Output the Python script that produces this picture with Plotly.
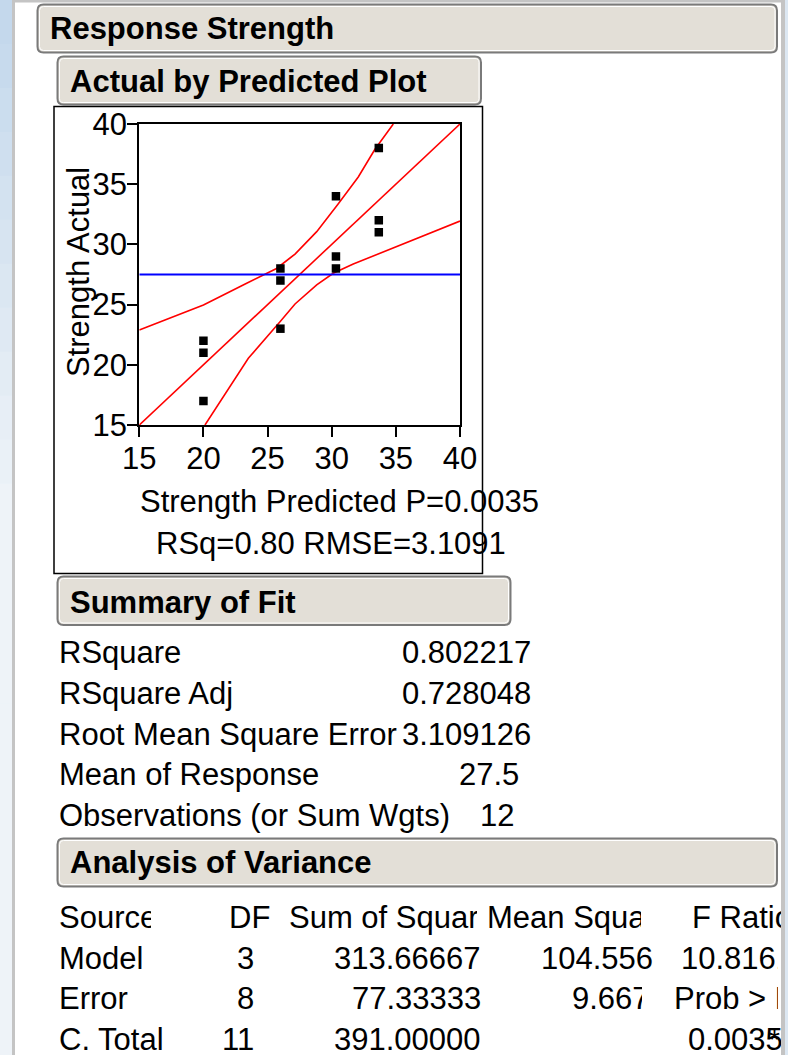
import plotly.graph_objects as go

W, H = 788, 1055
FONT = "Liberation Sans, Arial, sans-serif"
FS = 31

# ---------------- data ----------------
pred_x = [20, 20, 20, 26, 26, 26, 30.33, 30.33, 30.33, 33.67, 33.67, 33.67]
actual_y = [22, 21, 17, 28, 27, 23, 34, 29, 28, 38, 32, 31]
fit_x = [15, 40]
fit_y = [15, 40]
mean_x = [15, 40]
mean_y = [27.5, 27.5]
upper_x = [15, 20, 23.37, 25.7, 27.14, 28.83, 30.5, 32.07, 33.37, 34.8]
upper_y = [22.9, 24.97, 26.77, 28.0, 29.2, 31.06, 33.36, 35.6, 37.9, 40]
lower_x = [20.12, 23.5, 25.97, 27.14, 28.83, 30.12, 31.68, 40]
lower_y = [15, 20.54, 23.58, 25.05, 26.63, 27.6, 28.37, 31.94]
tick_vals = [15, 20, 25, 30, 35, 40]

summary_labels = ["RSquare", "RSquare Adj", "Root Mean Square Error",
                  "Mean of Response", "Observations (or Sum Wgts)"]
summary_values = ["0.802217", "0.728048", "3.109126", "27.5", "12"]

anova_header = ["Source", "DF", "Sum of Squares", "Mean Square", "F Ratio"]
anova_source = ["Model", "Error", "C. Total"]
anova_df = ["3", "8", "11"]
anova_ss = ["313.66667", "77.33333", "391.00000"]
anova_ms = ["104.556", "9.667", ""]
anova_f = ["10.8161", "Prob > F", "0.0035"]


def px(x):
    return x / W


def py(y):
    return 1 - y / H


fig = go.Figure()

fig.add_trace(go.Scatter(x=upper_x, y=upper_y, mode="lines",
                         line=dict(color="#ff0000", width=1.6), hoverinfo="skip"))
fig.add_trace(go.Scatter(x=lower_x, y=lower_y, mode="lines",
                         line=dict(color="#ff0000", width=1.6), hoverinfo="skip"))
fig.add_trace(go.Scatter(x=fit_x, y=fit_y, mode="lines",
                         line=dict(color="#ff0000", width=1.6), hoverinfo="skip"))
fig.add_trace(go.Scatter(x=mean_x, y=mean_y, mode="lines",
                         line=dict(color="#0000ff", width=2), hoverinfo="skip"))
fig.add_trace(go.Scatter(x=pred_x, y=actual_y, mode="markers",
                         marker=dict(symbol="square", size=8.5, color="black",
                                     line=dict(width=0))))

shapes = []

# left / right light blue strips (vertical gradient bands)
n = 24
c0 = (196, 216, 236)
c1 = (238, 243, 248)
for i in range(n):
    t = min(1.0, i / (n * 0.45))
    col = "rgb(%d,%d,%d)" % tuple(int(c0[k] + (c1[k] - c0[k]) * t) for k in range(3))
    y0 = H * i / n
    y1 = H * (i + 1) / n + 1
    for (xa, xb) in [(0, 12), (785, 788)]:
        shapes.append(dict(type="rect", xref="paper", yref="paper",
                           x0=px(xa), x1=px(xb), y0=py(y1), y1=py(y0),
                           fillcolor=col, line=dict(width=0), layer="below"))

# gray left bar and top bar
shapes.append(dict(type="rect", xref="paper", yref="paper", x0=px(12), x1=px(15),
                   y0=py(H), y1=py(0), fillcolor="#c4c4c4", line=dict(width=0), layer="below"))
shapes.append(dict(type="rect", xref="paper", yref="paper", x0=px(12), x1=px(785),
                   y0=py(2.5), y1=py(0), fillcolor="#c4c4c4", line=dict(width=0), layer="below"))


def rr_path(x0, y0, x1, y1, r):
    def P(x, y):
        return "%.5f,%.5f" % (px(x), py(y))
    s = "M" + P(x0 + r, y0)
    s += " L" + P(x1 - r, y0) + " Q" + P(x1, y0) + " " + P(x1, y0 + r)
    s += " L" + P(x1, y1 - r) + " Q" + P(x1, y1) + " " + P(x1 - r, y1)
    s += " L" + P(x0 + r, y1) + " Q" + P(x0, y1) + " " + P(x0, y1 - r)
    s += " L" + P(x0, y0 + r) + " Q" + P(x0, y0) + " " + P(x0 + r, y0) + " Z"
    return s


def header_box(x0, y0, x1, y1):
    shapes.append(dict(type="path", xref="paper", yref="paper",
                       path=rr_path(x0, y0, x1, y1, 6), fillcolor="#e3dfd7",
                       line=dict(color="#7a7a7a", width=2), layer="below"))
    shapes.append(dict(type="path", xref="paper", yref="paper",
                       path=rr_path(x0 + 2, y0 + 2, x1 - 2, y1 - 2, 4),
                       fillcolor="rgba(0,0,0,0)",
                       line=dict(color="#ffffff", width=1), layer="below"))


header_box(37.5, 4.5, 777, 52.5)
header_box(57.5, 56.5, 481, 104.5)
header_box(57.5, 576.5, 510.5, 625)
header_box(57.5, 838.5, 777, 886.5)

# plot frame
shapes.append(dict(type="rect", xref="paper", yref="paper", x0=px(54), x1=px(482.5),
                   y0=py(573.5), y1=py(106.5), fillcolor="rgba(0,0,0,0)",
                   line=dict(color="black", width=1.5), layer="below"))

ann = []


def text(x, y, s, anchor="left", size=FS, bold=False, angle=0):
    ann.append(dict(x=px(x), y=py(y), xref="paper", yref="paper", text=("<b>%s</b>" % s) if bold else s,
                    showarrow=False, xanchor=anchor, yanchor="middle", textangle=angle,
                    font=dict(family=FONT, size=size, color="black")))


def box(x0, y0, x1, y1, color="white"):
    ann.append(dict(x=px(x0), y=py(y0), xref="paper", yref="paper", text=" ",
                    showarrow=False, xanchor="left", yanchor="top",
                    width=x1 - x0, height=y1 - y0, bgcolor=color, borderpad=0,
                    borderwidth=0, font=dict(size=1)))


text(48, 28.5, "Response Strength", bold=True)
text(68, 81, "Actual by Predicted Plot", bold=True)
text(68, 602.5, "Summary of Fit", bold=True)
text(68, 862, "Analysis of Variance", bold=True)

# axis titles
text(78, 272, "Strength Actual", anchor="center", angle=-90)
text(339, 501, "Strength Predicted P=0.0035", anchor="center")
text(331, 543, "RSq=0.80 RMSE=3.1091", anchor="center")

# summary of fit
row_y = [652.5, 693, 734, 774.5, 815]
val_right = [533, 533, 533, 521, 516]
for i, lab in enumerate(summary_labels):
    text(57, row_y[i], lab)
    text(val_right[i], row_y[i], summary_values[i], anchor="right")

# ANOVA header row (with column clipping)
hy = 917
text(57, hy, anova_header[0])
box(151, hy - 20, 176, hy + 20)
text(272, hy, anova_header[1], anchor="right")
text(287, hy, anova_header[2])
box(477, hy - 20, 600, hy + 20)
text(485, hy, anova_header[3])
box(641, hy - 20, 689, hy + 20)
text(690, hy, anova_header[4])

ry = [958, 998, 1039]
f_left = [679, 672, 686]
for i in range(3):
    text(57, ry[i], anova_source[i])
    text(256, ry[i], anova_df[i], anchor="right")
    text(483, ry[i], anova_ss[i], anchor="right")
    if anova_ms[i]:
        text(655 if i == 0 else 652, ry[i], anova_ms[i], anchor="right")
        if i == 1:
            box(642, ry[i] - 20, 670, ry[i] + 20)
    text(f_left[i], ry[i], anova_f[i])
box(778, 938, 781, 1018)
text(774, 1039, "*", anchor="center", size=28)

# right bar + strip (drawn last, on top of text)
box(781, 0, 785, H, color="#c4c4c4")
box(785, 0, 788, H, color="#dce7f2")

axis_common = dict(showgrid=False, zeroline=False, showline=True, linecolor="black",
                   linewidth=2, mirror=True, ticks="outside", ticklen=10, tickwidth=1.5,
                   tickcolor="black", tickvals=tick_vals, automargin=False,
                   tickfont=dict(family=FONT, size=FS, color="black"))

fig.update_layout(
    width=W, height=H, autosize=False,
    margin=dict(l=0, r=0, t=0, b=0, pad=0, autoexpand=False),
    paper_bgcolor="white", plot_bgcolor="white",
    showlegend=False,
    xaxis=dict(domain=[139.3 / W, 460 / W], range=[15, 40], ticklabelstandoff=-5,
               **axis_common),
    yaxis=dict(domain=[1 - 425 / H, 1 - 124 / H], range=[15, 40], ticklabelstandoff=-6,
               **axis_common),
    shapes=shapes,
    annotations=ann,
)

fig.write_html("out.html", config={"displayModeBar": False})
